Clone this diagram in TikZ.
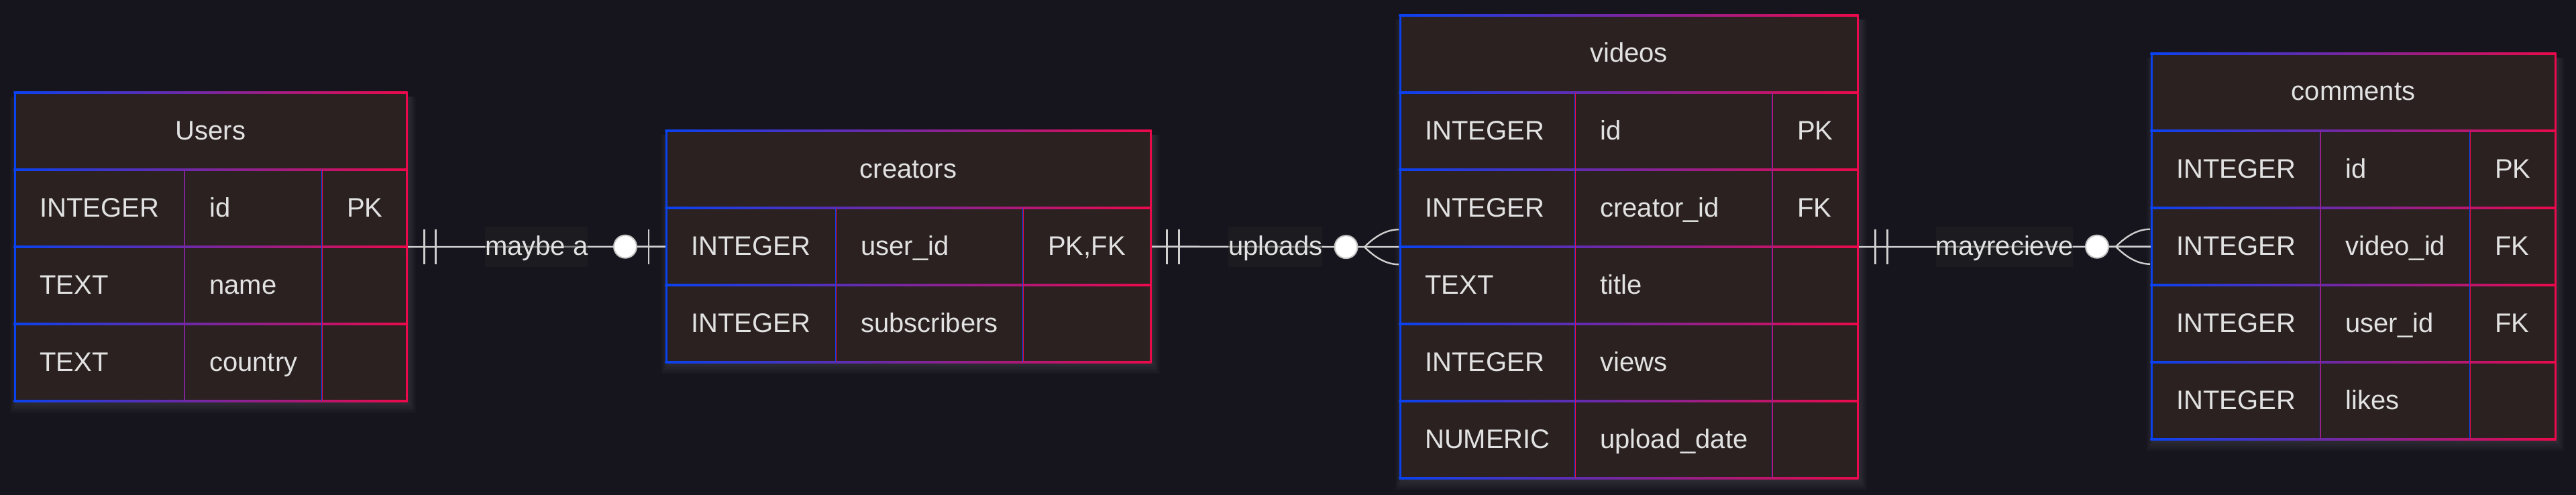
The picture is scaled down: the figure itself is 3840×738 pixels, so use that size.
\documentclass[tikz,border=0pt]{standalone}
\usepackage{fontspec}
\setmainfont{Liberation Sans}
\usetikzlibrary{calc}
\pgfdeclarelayer{back}
\pgfsetlayers{back,main}
\definecolor{bgc}{HTML}{16151E}
\definecolor{boxc}{HTML}{2B2121}
\definecolor{gblue}{HTML}{0A42F0}
\definecolor{gred}{HTML}{EB0A4B}
\definecolor{txtc}{HTML}{E2E2E2}
\definecolor{linec}{HTML}{CFCFCF}
\definecolor{lblbg}{HTML}{222222}
\tikzset{
  tbl/.style={draw=none, fill=boxc, inner sep=0pt, outer sep=0pt},
  cell/.style={text=txtc, anchor=base west, inner sep=0pt, font=\fontsize{40}{48}\selectfont},
  ttl/.style={text=txtc, anchor=base, inner sep=0pt, font=\fontsize{40}{48}\selectfont},
  conn/.style={draw=linec, line width=2.6pt},
  barmark/.style={draw=linec, line width=2.6pt},
  crowmark/.style={draw=linec, line width=2.4pt},
  zcirc/.style={circle, fill=white, draw=linec!85!gray, line width=2pt, minimum size=34pt, inner sep=0pt},
  lbl/.style={fill=lblbg, fill opacity=0.5, text opacity=1, text=txtc, inner xsep=0pt, inner ysep=0pt,
    text height=42.5pt, text depth=17.5pt, font=\fontsize{40}{48}\selectfont},
}
% #1 name, #2 x0, #3 y0, #4 x1, #5 data rows, #6 col1, #7 col2, #8 title
\newcommand\ertable[8]{%
  \pgfmathsetmacro\tbot{#3+115*(#5+1)}%
  \pgfmathsetmacro\tw{#4-#2}%
  \pgfmathsetmacro\th{115*(#5+1)}%
  \pgfmathtruncatemacro\tn{#5+1}%
  \begin{pgfonlayer}{back}
    \foreach \k in {1,...,7}{\fill[white,opacity=0.016] (#2+3-\k*1.5,#3+6) rectangle (#4+3+\k*1.5,\tbot+3+\k*2.2);}
  \end{pgfonlayer}
  \node[tbl, minimum width=\tw pt, minimum height=\th pt, anchor=north west] (#1) at (#2,#3) {};
  \foreach \i in {0,...,\tn}{\shade[left color=gblue, right color=gred] (#2-1.5,#3+115*\i-1.5) rectangle (#4+1.5,#3+115*\i+1.5);}
  \fill[gblue] (#2-1.5,#3) rectangle (#2+1.5,\tbot);
  \fill[gred] (#4-1.5,#3) rectangle (#4+1.5,\tbot);
  \foreach \c in {#6,#7}{\fill[gblue] (\c-1.2,#3+115) rectangle (\c,\tbot); \fill[gred] (\c,#3+115) rectangle (\c+1.3,\tbot);}
  \node[ttl] (#1-title) at (#2/2+#4/2,#3+70) {#8};
}
% #1 prefix, #2 x0, #3 col1, #4 col2, #5 row centre, #6 type, #7 field, #8 key
\newcommand\errow[8]{%
  \node[cell] (#1-type) at (#2+37,#5+12.5) {#6};
  \node[cell] (#1-name) at (#3+37,#5+12.5) {#7};
  \if\relax\detokenize{#8}\relax\else\node[cell] (#1-key) at (#4+37,#5+12.5) {#8};\fi
}
\newcommand\crowfoot[1]{%
  \draw[crowmark] ($(#1)+(-53,0)$) .. controls ($(#1)+(-36,-17.3)$) and ($(#1)+(-19,-26)$) .. ($(#1)+(-2,-26)$);
  \draw[crowmark] ($(#1)+(-53,0)$) .. controls ($(#1)+(-36,17.3)$) and ($(#1)+(-19,26)$) .. ($(#1)+(-2,26)$);
}
\begin{document}
\begin{tikzpicture}[x=1pt,y=-1pt]
\begin{pgfonlayer}{back}
  \fill[bgc] (0,0) rectangle (3840,738);
\end{pgfonlayer}
\useasboundingbox (0,0) rectangle (3840,738);

% invisible anchor nodes to place connectors before tables are drawn
\node[inner sep=0pt, minimum width=584pt, minimum height=460pt, anchor=north west] (users) at (22,138) {};
\node[inner sep=0pt, minimum width=722pt, minimum height=345pt, anchor=north west] (creators) at (993,195) {};
\node[inner sep=0pt, minimum width=682pt, minimum height=690pt, anchor=north west] (videos) at (2087,23) {};
\node[inner sep=0pt, minimum width=602pt, minimum height=575pt, anchor=north west] (comments) at (3207,80) {};

% connectors
\draw[conn] (users.east) -- node[lbl] (l1) {maybe a} (creators.west);
\draw[conn] (creators.east) -- node[lbl] (l2) {uploads} (videos.west);
\draw[conn] (videos.east) -- node[lbl] (l3) {mayrecieve} (comments.west);

% relation 1 markers
\draw[barmark] ($(users.east)+(26,-26)$) -- ($(users.east)+(26,26)$);
\draw[barmark] ($(users.east)+(43,-26)$) -- ($(users.east)+(43,26)$);
\draw[barmark] ($(creators.west)+(-26,-26)$) -- ($(creators.west)+(-26,26)$);
\node[zcirc] (z1) at ($(creators.west)+(-61,0)$) {};

% relation 2 markers
\draw[barmark] ($(creators.east)+(24,-26)$) -- ($(creators.east)+(24,26)$);
\draw[barmark] ($(creators.east)+(42,-26)$) -- ($(creators.east)+(42,26)$);
\crowfoot{videos.west}
\node[zcirc] (z2) at ($(videos.west)+(-80.5,0)$) {};

% relation 3 markers
\draw[barmark] ($(videos.east)+(26,-26)$) -- ($(videos.east)+(26,26)$);
\draw[barmark] ($(videos.east)+(44,-26)$) -- ($(videos.east)+(44,26)$);
\crowfoot{comments.west}
\node[zcirc] (z3) at ($(comments.west)+(-81,0)$) {};

% tables
\ertable{usersT}{22}{138}{606}{3}{275}{480}{Users}
\errow{u1}{22}{275}{480}{310.5}{INTEGER}{id}{PK}
\errow{u2}{22}{275}{480}{425.5}{TEXT}{name}{}
\errow{u3}{22}{275}{480}{540.5}{TEXT}{country}{}

\ertable{creatorsT}{993}{195}{1715}{2}{1246}{1525}{creators}
\errow{c1}{993}{1246}{1525}{367.5}{INTEGER}{user\_id}{PK,FK}
\errow{c2}{993}{1246}{1525}{482.5}{INTEGER}{subscribers}{}

\ertable{videosT}{2087}{23}{2769}{5}{2348}{2642}{videos}
\errow{v1}{2087}{2348}{2642}{195.5}{INTEGER}{id}{PK}
\errow{v2}{2087}{2348}{2642}{310.5}{INTEGER}{creator\_id}{FK}
\errow{v3}{2087}{2348}{2642}{425.5}{TEXT}{title}{}
\errow{v4}{2087}{2348}{2642}{540.5}{INTEGER}{views}{}
\errow{v5}{2087}{2348}{2642}{655.5}{NUMERIC}{upload\_date}{}

\ertable{commentsT}{3207}{80}{3809}{4}{3459}{3682}{comments}
\errow{m1}{3207}{3459}{3682}{252.5}{INTEGER}{id}{PK}
\errow{m2}{3207}{3459}{3682}{367.5}{INTEGER}{video\_id}{FK}
\errow{m3}{3207}{3459}{3682}{482.5}{INTEGER}{user\_id}{FK}
\errow{m4}{3207}{3459}{3682}{597.5}{INTEGER}{likes}{}
\end{tikzpicture}
\end{document}
